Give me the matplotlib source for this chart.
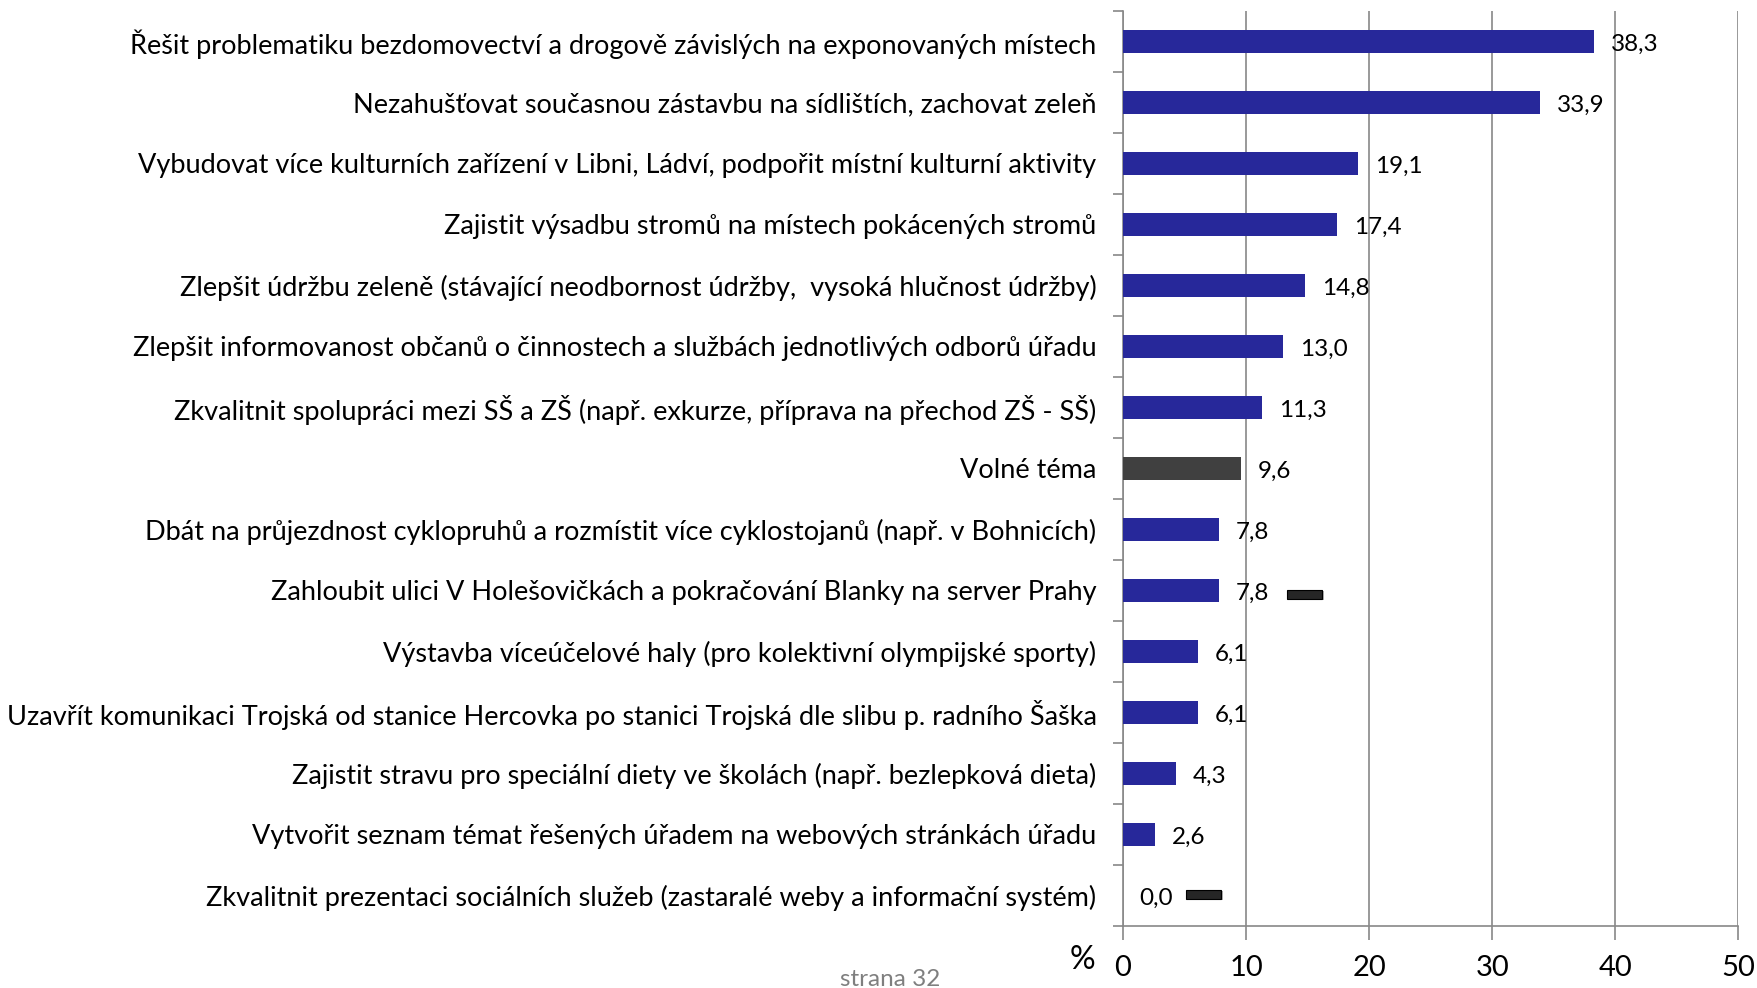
import matplotlib
matplotlib.use("Agg")
import matplotlib.pyplot as plt
import numpy as np

plt.rcParams['font.family'] = ['Lato', 'DejaVu Sans']

categories = [
    'Řešit problematiku bezdomovectví a drogově závislých na exponovaných místech',
    'Nezahušťovat současnou zástavbu na sídlištích, zachovat zeleň',
    'Vybudovat více kulturních zařízení v Libni, Ládví, podpořit místní kulturní aktivity',
    'Zajistit výsadbu stromů na místech pokácených stromů',
    'Zlepšit údržbu zeleně (stávající neodbornost údržby,  vysoká hlučnost údržby)',
    'Zlepšit informovanost občanů o činnostech a službách jednotlivých odborů úřadu',
    'Zkvalitnit spolupráci mezi SŠ a ZŠ (např. exkurze, příprava na přechod ZŠ - SŠ)',
    'Volné téma',
    'Dbát na průjezdnost cyklopruhů a rozmístit více cyklostojanů (např. v Bohnicích)',
    'Zahloubit ulici V Holešovičkách a pokračování Blanky na server Prahy',
    'Výstavba víceúčelové haly (pro kolektivní olympijské sporty)',
    'Uzavřít komunikaci Trojská od stanice Hercovka po stanici Trojská dle slibu p. radního Šaška',
    'Zajistit stravu pro speciální diety ve školách (např. bezlepková dieta)',
    'Vytvořit seznam témat řešených úřadem na webových stránkách úřadu',
    'Zkvalitnit prezentaci sociálních služeb (zastaralé weby a informační systém)',
]
values = [38.3, 33.9, 19.1, 17.4, 14.8, 13.0, 11.3, 9.6, 7.8, 7.8, 6.1, 6.1, 4.3, 2.6, 0.0]
highlight = 'Volné téma'

# stray dark dashes visible in the source chart
dash_rows = [9, 14]
dash_start = [13.3, 5.1]
dash_end = [16.2, 8.0]
dash_shift = [0.08, 0.0]

xticks = [0, 10, 20, 30, 40, 50]

fig = plt.figure(figsize=(17.58, 9.88), dpi=100)
ax = fig.add_axes([0.6388, 0.0628, 0.35, 0.9261])

y = np.arange(len(categories))
colors = ['#404040' if c == highlight else '#27289a' for c in categories]
ax.barh(y, values, height=0.39, color=colors, zorder=3)

for yi, v in zip(y, values):
    ax.annotate(f'{v:.1f}'.replace('.', ','), (v, yi), xytext=(12, -2),
                textcoords='offset points', va='center', ha='left', fontsize=17.5)

for r, s, e, sh in zip(dash_rows, dash_start, dash_end, dash_shift):
    ax.barh(r + sh, e - s, left=s + 0.15, height=0.15, color='#b0b0b0', zorder=3)
    ax.barh(r + sh - 0.02, e - s, left=s, height=0.15, color='#262626',
            edgecolor='#000000', linewidth=0.8, zorder=4)

ax.set_xlim(0, 50)
ax.set_ylim(len(categories) - 0.5, -0.5)
ax.set_xticks(xticks)
ax.set_xticklabels([str(t) for t in xticks], fontsize=21)
ax.tick_params(axis='x', length=10, width=1.2, color='#888888', pad=11)

ax.set_yticks(np.arange(len(categories) + 1) - 0.5)
ax.set_yticklabels([])
ax.tick_params(axis='y', which='major', length=7, width=1.2, color='#888888')
ax.set_yticks(y, minor=True)
ax.set_yticklabels(categories, minor=True, fontsize=19.5)
ax.tick_params(axis='y', which='minor', length=0, pad=19)

ax.grid(axis='x', color='#888888', linewidth=1.2, zorder=0)
for s in ['top', 'right']:
    ax.spines[s].set_visible(False)
for s in ['left', 'bottom']:
    ax.spines[s].set_color('#888888')
    ax.spines[s].set_linewidth(1.2)

fig.text(1082 / 1758, 1 - 960 / 988, '%', fontsize=23, ha='center', va='center')
fig.text(890 / 1758, 1 - 979 / 988, 'strana 32', fontsize=17.5, color='#7f7f7f',
         ha='center', va='center')

fig.savefig('out.png', dpi=100)
